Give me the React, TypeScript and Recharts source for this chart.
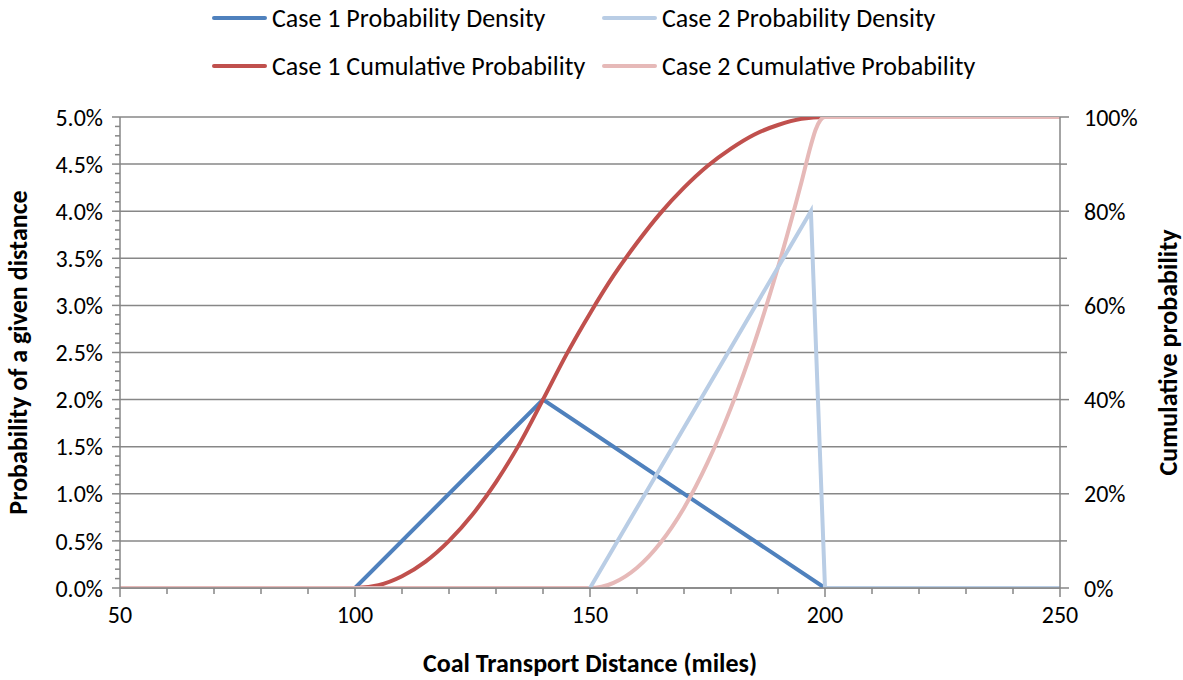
import { LineChart, Line, XAxis, YAxis, CartesianGrid, Legend } from "recharts"

const FONT = "Carlito, Calibri, Lato, sans-serif"

// x axis (miles)
const xTicks = [50, 100, 150, 200, 250]
const xMinorTicks = [60, 70, 80, 90, 110, 120, 130, 140, 160, 170, 180, 190, 210, 220, 230, 240]

// left axis (probability density)
const leftTicks = [0, 0.005, 0.01, 0.015, 0.02, 0.025, 0.03, 0.035, 0.04, 0.045, 0.05]
const leftMinorTicks = [
    0.001, 0.002, 0.003, 0.004, 0.006, 0.007, 0.008, 0.009, 0.011, 0.012, 0.013, 0.014,
    0.016, 0.017, 0.018, 0.019, 0.021, 0.022, 0.023, 0.024, 0.026, 0.027, 0.028, 0.029,
    0.031, 0.032, 0.033, 0.034, 0.036, 0.037, 0.038, 0.039, 0.041, 0.042, 0.043, 0.044,
    0.046, 0.047, 0.048, 0.049,
]

// right axis (cumulative)
const rightTicks = [0, 0.2, 0.4, 0.6, 0.8, 1]
const rightMinorTicks = [0.1, 0.3, 0.5, 0.7, 0.9]

// series
const c1DensityMiles = [50, 100, 140, 200, 250]
const c1Density = [0, 0, 0.02, 0, 0]

const c2DensityMiles = [150, 197, 200, 250]
const c2Density = [0, 0.04, 0, 0]

const c1CumMiles = [50, 100, 105, 110, 115, 120, 125, 130, 135, 140, 145, 150, 155, 160, 165, 170, 175, 180, 185, 190, 195, 200, 250]
const c1Cum = [0, 0, 0.006, 0.025, 0.056, 0.1, 0.156, 0.225, 0.306, 0.4, 0.496, 0.583, 0.663, 0.733, 0.796, 0.85, 0.896, 0.933, 0.963, 0.983, 0.996, 1, 1]

const c2CumMiles = [50, 150, 155, 160, 165, 170, 175, 180, 185, 190, 195, 197, 198, 199, 200, 250]
const c2Cum = [0, 0, 0.011, 0.043, 0.096, 0.17, 0.266, 0.383, 0.521, 0.681, 0.862, 0.94, 0.973, 0.993, 1, 1]

const toPoints = (xs: number[], ys: number[]) => xs.map((x, i) => ({ x, y: ys[i] }))
const merge = (a: number[], b: number[]) => [...a, ...b].sort((p, q) => p - q)

const series = [
    { name: "Case 1 Probability Density", color: "#4F81BD", col: 0, row: 0 },
    { name: "Case 2 Probability Density", color: "#B9CDE5", col: 1, row: 0 },
    { name: "Case 1 Cumulative Probability", color: "#C0504D", col: 0, row: 1 },
    { name: "Case 2 Cumulative Probability", color: "#E6B9B8", col: 1, row: 1 },
]

const GRID = "#878787"
const AXIS = "#868686"
const TICK_FONT = 24

function ChartLegend() {
    return (
        <div style={{ position: "relative", width: 1183, height: 90, fontFamily: FONT }}>
            {series.map((s) => {
                const lineX = s.col === 0 ? 212 : 602
                const cy = s.row === 0 ? 18 : 66
                return (
                    <div key={s.name}>
                        <div
                            style={{
                                position: "absolute",
                                left: lineX,
                                top: cy - 2,
                                width: 55,
                                height: 4,
                                borderRadius: 2,
                                background: s.color,
                            }}
                        />
                        <div
                            style={{
                                position: "absolute",
                                left: lineX + 60,
                                top: cy - 16,
                                fontSize: 26,
                                lineHeight: "32px",
                                color: "#000",
                                whiteSpace: "nowrap",
                            }}
                        >
                            {s.name}
                        </div>
                    </div>
                )
            })}
        </div>
    )
}

// tick renderers: major ticks get a label and a long mark, minor ones a short mark
function XTick({ x, y, payload }: any) {
    const major = xTicks.includes(payload.value)
    return (
        <g>
            <line x1={x} x2={x} y1={y} y2={y + (major ? 9 : 6)} stroke={AXIS} strokeWidth={1.5} />
            {major && (
                <text x={x} y={y + 17} dy="0.75em" textAnchor="middle" fill="#000" fontSize={TICK_FONT} fontFamily={FONT}>
                    {payload.value}
                </text>
            )}
        </g>
    )
}

function LeftTick({ x, y, payload }: any) {
    const major = leftTicks.includes(payload.value)
    return (
        <g>
            <line x1={x - (major ? 8 : 5)} x2={x} y1={y} y2={y} stroke={AXIS} strokeWidth={1.5} />
            {major && (
                <text x={x - 17} y={y} dy="0.36em" textAnchor="end" fill="#000" fontSize={TICK_FONT} fontFamily={FONT}>
                    {`${(payload.value * 100).toFixed(1)}%`}
                </text>
            )}
        </g>
    )
}

function RightTick({ x, y, payload }: any) {
    const major = rightTicks.includes(payload.value)
    return (
        <g>
            <line x1={x} x2={x + (major ? 9 : 7)} y1={y} y2={y} stroke={AXIS} strokeWidth={1.5} />
            {major && (
                <text x={x + 24} y={y} dy="0.36em" textAnchor="start" fill="#000" fontSize={TICK_FONT} fontFamily={FONT}>
                    {`${Math.round(payload.value * 100)}%`}
                </text>
            )}
        </g>
    )
}

const titleStyle = { fill: "#000", fontSize: 26, fontWeight: 700, fontFamily: FONT }

export default function App() {
    return (
        <div style={{ position: "absolute", left: 0, top: 0, width: 1183, height: 680, background: "#fff" }}>
            <LineChart width={1183} height={680} margin={{ top: 117, right: 0, bottom: 0, left: 0 }}>
                <CartesianGrid xAxisId="main" yAxisId="left" vertical={false} stroke={GRID} strokeWidth={1.5} horizontalValues={leftTicks} />
                <XAxis
                    xAxisId="main"
                    type="number"
                    dataKey="x"
                    domain={[50, 250]}
                    ticks={merge(xTicks, xMinorTicks)}
                    interval={0}
                    allowDataOverflow
                    height={92}
                    tickSize={0}
                    tickMargin={0}
                    tickLine={false}
                    tick={<XTick />}
                    axisLine={{ stroke: AXIS, strokeWidth: 1.5 }}
                    label={{ value: "Coal Transport Distance (miles)", position: "insideBottom", offset: 8, style: titleStyle }}
                />
                <YAxis
                    yAxisId="left"
                    orientation="left"
                    type="number"
                    domain={[0, 0.05]}
                    ticks={merge(leftTicks, leftMinorTicks)}
                    interval={0}
                    allowDataOverflow
                    width={120}
                    tickSize={0}
                    tickMargin={0}
                    tickLine={false}
                    tick={<LeftTick />}
                    axisLine={{ stroke: AXIS, strokeWidth: 1.5 }}
                    label={{ value: "Probability of a given distance", angle: -90, position: "insideLeft", offset: 18, style: { ...titleStyle, textAnchor: "middle" } }}
                />
                <YAxis
                    yAxisId="right"
                    orientation="right"
                    type="number"
                    domain={[0, 1]}
                    ticks={merge(rightTicks, rightMinorTicks)}
                    interval={0}
                    allowDataOverflow
                    width={123}
                    tickSize={0}
                    tickMargin={0}
                    tickLine={false}
                    tick={<RightTick />}
                    axisLine={{ stroke: AXIS, strokeWidth: 1.5 }}
                    label={{ value: "Cumulative probability", angle: -90, position: "insideRight", offset: 15, style: { ...titleStyle, textAnchor: "middle" } }}
                />
                <Legend
                    layout="horizontal"
                    verticalAlign="middle"
                    align="center"
                    wrapperStyle={{ top: 0, left: 0, width: 1183, height: 90 }}
                    content={() => <ChartLegend />}
                />
                <Line
                    xAxisId="main"
                    yAxisId="left"
                    name="Case 1 Probability Density"
                    data={toPoints(c1DensityMiles, c1Density)}
                    dataKey="y"
                    type="linear"
                    stroke="#4F81BD"
                    strokeWidth={4}
                    dot={false}
                    isAnimationActive={false}
                />
                <Line
                    xAxisId="main"
                    yAxisId="right"
                    name="Case 1 Cumulative Probability"
                    data={toPoints(c1CumMiles, c1Cum)}
                    dataKey="y"
                    type="monotone"
                    stroke="#C0504D"
                    strokeWidth={4}
                    dot={false}
                    isAnimationActive={false}
                />
                <Line
                    xAxisId="main"
                    yAxisId="right"
                    name="Case 2 Cumulative Probability"
                    data={toPoints(c2CumMiles, c2Cum)}
                    dataKey="y"
                    type="monotone"
                    stroke="#E6B9B8"
                    strokeWidth={4}
                    dot={false}
                    isAnimationActive={false}
                />
                <Line
                    xAxisId="main"
                    yAxisId="left"
                    name="Case 2 Probability Density"
                    data={toPoints(c2DensityMiles, c2Density)}
                    dataKey="y"
                    type="linear"
                    stroke="#B9CDE5"
                    strokeWidth={4}
                    dot={false}
                    isAnimationActive={false}
                />
            </LineChart>
        </div>
    )
}
